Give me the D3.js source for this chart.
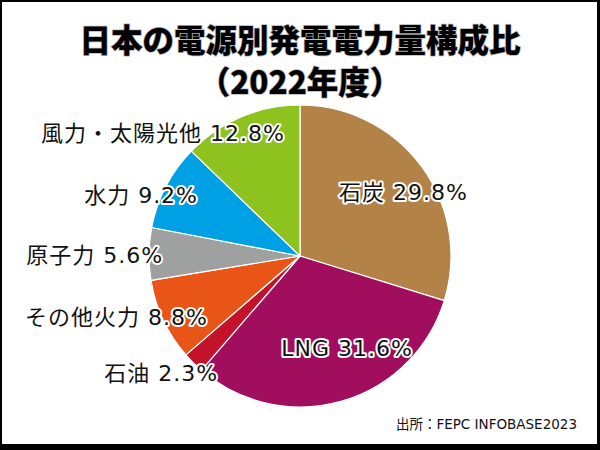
<!DOCTYPE html>
<html><head><meta charset="utf-8">
<script src="https://cdn.jsdelivr.net/npm/d3@7/dist/d3.min.js"></script>
<style>
html,body{margin:0;padding:0;background:#fff;}
svg{display:block;}
text{font-family:"Noto Sans CJK JP","Noto Sans",sans-serif;}
.lbl,.src{font-family:"DejaVu Sans","Noto Sans CJK JP",sans-serif;}
</style></head>
<body>
<svg id="chart" width="600" height="450"></svg>
<script>
// ---- data ----
const categories = ["石炭", "LNG", "石油", "その他火力", "原子力", "水力", "風力・太陽光他"];
const values = [29.8, 31.6, 2.3, 8.8, 5.6, 9.2, 12.8];
const colors = ["#B28247", "#A20E5E", "#C5122B", "#E95516", "#9FA0A0", "#00A0E4", "#8DC21F"];
const titleLines = ["日本の電源別発電電力量構成比", "（2022年度）"];
const sourceText = "出所：FEPC INFOBASE2023";

// label layout (angle in degrees clockwise from top, radius factor, anchor)
const labelLayout = [
  {a: 58.3, k: 0.806, anchor: "middle"},
  {a: 152.9, k: 0.684, anchor: "middle"},
  {a: 215.0, k: 0.946, anchor: "end"},
  {a: 236.5, k: 0.731, anchor: "end"},
  {a: 270.4, k: 0.907, anchor: "end"},
  {a: 300.9, k: 0.787, anchor: "end"},
  {a: 353.0, k: 0.821, anchor: "end"}
];

const W = 600, H = 450;
const svg = d3.select("#chart");

// frame
svg.append("rect").attr("x", 0).attr("y", 0).attr("width", W).attr("height", H).attr("fill", "#000");
svg.append("rect").attr("x", 2).attr("y", 2).attr("width", 595).attr("height", 442).attr("fill", "#fff");

// title
titleLines.forEach((t, i) => {
  svg.append("text")
    .attr("x", 300).attr("y", i === 0 ? 52 : 94)
    .attr("text-anchor", "middle")
    .attr("font-size", 31.5)
    .attr("font-weight", 900)
    .attr("fill", "#000")
    .attr("stroke", "#bbb").attr("stroke-width", 1.5)
    .attr("paint-order", "stroke")
    .text(t);
});

const cx = 300, cy = 256, R = 151;
const data = categories.map((c, i) => ({name: c, value: values[i], color: colors[i]}));

const pie = d3.pie().value(d => d.value).sort(null).startAngle(0).endAngle(2 * Math.PI);
const arc = d3.arc().innerRadius(0).outerRadius(R);
const arcs = pie(data);

const g = svg.append("g").attr("transform", `translate(${cx},${cy})`);
g.selectAll("path.slice").data(arcs).enter().append("path")
  .attr("class", "slice")
  .attr("d", arc)
  .attr("fill", d => d.data.color)
  .attr("stroke", "#fff")
  .attr("stroke-width", 1.2)
  .attr("stroke-linejoin", "round");

// labels
g.selectAll("text.lbl").data(arcs).enter().append("text")
  .attr("class", "lbl")
  .attr("x", (d, i) => Math.sin(labelLayout[i].a * Math.PI / 180) * R * labelLayout[i].k)
  .attr("y", (d, i) => -Math.cos(labelLayout[i].a * Math.PI / 180) * R * labelLayout[i].k)
  .attr("dy", "0.36em")
  .attr("text-anchor", (d, i) => labelLayout[i].anchor)
  .attr("font-size", 22)
  .attr("letter-spacing", 1)
  .attr("fill", "#111")
  .attr("stroke", "#fff").attr("stroke-width", 4).attr("stroke-linejoin", "round")
  .attr("paint-order", "stroke")
  .text(d => `${d.data.name} ${d.data.value.toFixed(1)}%`);

// source
svg.append("text")
  .attr("class", "src")
  .attr("x", 577).attr("y", 429)
  .attr("text-anchor", "end")
  .attr("font-size", 13.5)
  .attr("fill", "#111")
  .text(sourceText);
</script>
</body></html>
